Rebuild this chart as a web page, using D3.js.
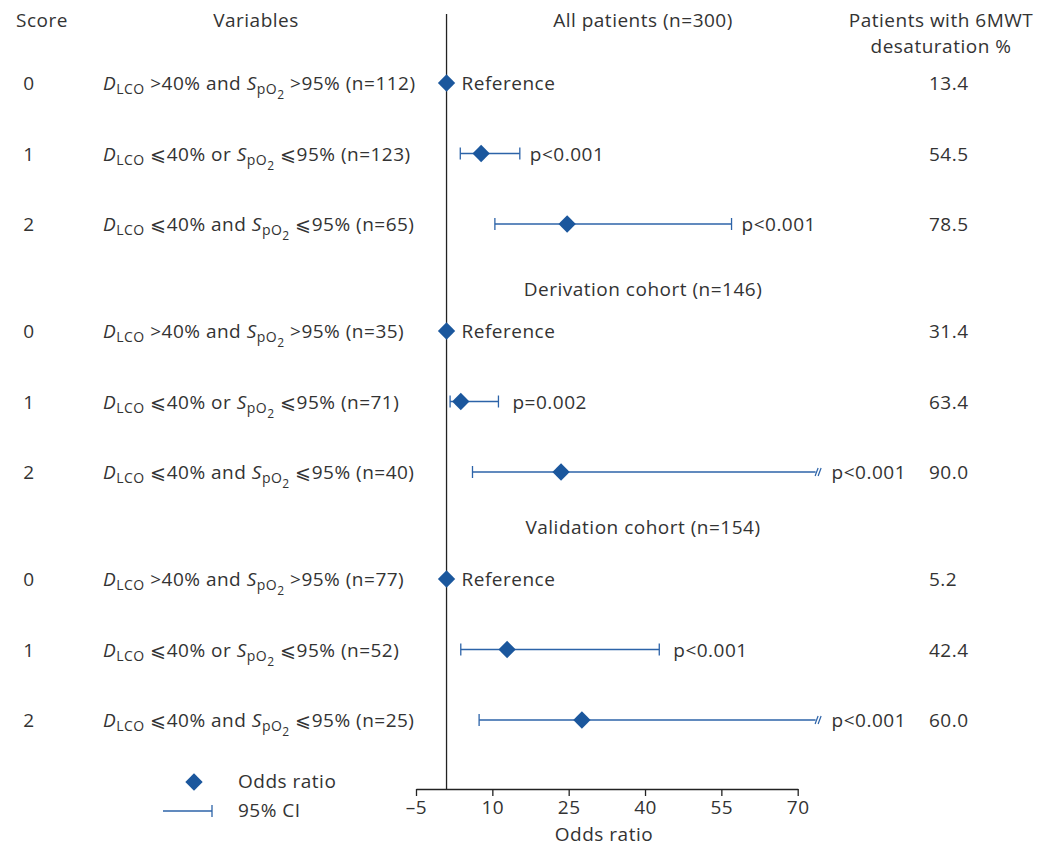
<!DOCTYPE html>
<html><head><meta charset="utf-8">
<script src="https://cdn.jsdelivr.net/npm/d3@7"></script>
<style>
html,body{margin:0;padding:0;background:#fff;}
text{font-family:"Open Sans",Roboto,sans-serif;fill:#333;letter-spacing:0.5px;}
</style></head>
<body>
<svg id="c" width="1050" height="847"></svg>
<script>
// ---- data ----
const groups = ["All patients (n=300)", "Derivation cohort (n=146)", "Validation cohort (n=154)"];
const scores = [0, 1, 2];
const connectors = ["and", "or", "and"];
const comparators = [">", "⩽", "⩽"];
const nValues = [[112, 123, 65], [35, 71, 40], [77, 52, 25]];
const orValues = [[1, 7.8, 24.7], [1, 3.8, 23.5], [1, 12.9, 27.6]];
const ciLow = [[null, 3.7, 10.5], [null, 1.7, 6.1], [null, 3.8, 7.4]];
const ciHigh = [[null, 15.4, 57.0], [null, 11.2, 74.5], [null, 42.8, 74.5]];
const ciTruncated = [[false, false, false], [false, false, true], [false, false, true]];
const pLabels = [["Reference", "p<0.001", "p<0.001"], ["Reference", "p=0.002", "p<0.001"], ["Reference", "p<0.001", "p<0.001"]];
const desat = [["13.4", "54.5", "78.5"], ["31.4", "63.4", "90.0"], ["5.2", "42.4", "60.0"]];
const xTicks = [-5, 10, 25, 40, 55, 70];
const refOR = 1;

// ---- layout ----
const svg = d3.select("#c");
const blue = "#1b579d", lineBlue = "#2c63a8";
const FS = 19;
const x = d3.scaleLinear().domain([-5, 70]).range([416, 797.7]);
const y = d3.scaleLinear().domain([0, 1]).range([83, 153.5]);
const rowIdx = (g, r) => g * (248 / 70.5) + r;
const axisY = 789;

// headers
const hdr = svg.append("g").attr("font-size", FS);
hdr.append("text").attr("x", 42).attr("y", 27).attr("text-anchor", "middle").text("Score");
hdr.append("text").attr("x", 256).attr("y", 27).attr("text-anchor", "middle").text("Variables");
hdr.append("text").attr("x", 941).attr("y", 27).attr("text-anchor", "middle").text("Patients with 6MWT");
hdr.append("text").attr("x", 941).attr("y", 53).attr("text-anchor", "middle").text("desaturation %");
const groupY = [20, 289, 527];
groups.forEach((gname, g) => {
  hdr.append("text").attr("x", 643).attr("y", groupY[g] + 7).attr("text-anchor", "middle").text(gname);
});

// reference line
svg.append("line").attr("x1", x(refOR)).attr("x2", x(refOR)).attr("y1", 14).attr("y2", axisY)
  .attr("stroke", "#222").attr("stroke-width", 1.3);

// rows
const rows = [];
groups.forEach((gname, g) => scores.forEach((s, r) => rows.push({g, r, s})));

const rowG = svg.append("g").selectAll("g").data(rows).join("g")
  .attr("transform", d => `translate(0,${y(rowIdx(d.g, d.r))})`);

rowG.append("text").attr("x", 29).attr("y", 7).attr("text-anchor", "middle").attr("font-size", FS).text(d => d.s);

// variable labels
rowG.each(function(d) {
  const t = d3.select(this).append("text").attr("x", 103).attr("y", 7).attr("font-size", FS);
  const cmp = comparators[d.r];
  t.append("tspan").attr("font-style", "italic").text("D");
  t.append("tspan").attr("font-size", 14).attr("dy", 4).text("LCO");
  t.append("tspan").attr("dy", -4).text(` ${cmp}40% ${connectors[d.r]} `);
  t.append("tspan").attr("font-style", "italic").text("S");
  t.append("tspan").attr("font-size", 14).attr("dy", 4).text("pO");
  t.append("tspan").attr("font-size", 12).attr("dy", 5).text("2");
  t.append("tspan").attr("dy", -9).text(` ${cmp}95% (n=${nValues[d.g][d.r]})`);
});

// CI lines
const ciG = rowG.filter(d => ciLow[d.g][d.r] !== null);
ciG.append("line")
  .attr("x1", d => x(ciLow[d.g][d.r])).attr("x2", d => x(ciHigh[d.g][d.r]) - (ciTruncated[d.g][d.r] ? 5 : 0))
  .attr("y1", 0).attr("y2", 0).attr("stroke", lineBlue).attr("stroke-width", 1.3);
ciG.append("line")
  .attr("x1", d => x(ciLow[d.g][d.r])).attr("x2", d => x(ciLow[d.g][d.r]))
  .attr("y1", -6).attr("y2", 6).attr("stroke", lineBlue).attr("stroke-width", 1.3);
ciG.filter(d => !ciTruncated[d.g][d.r]).append("line")
  .attr("x1", d => x(ciHigh[d.g][d.r])).attr("x2", d => x(ciHigh[d.g][d.r]))
  .attr("y1", -6).attr("y2", 6).attr("stroke", lineBlue).attr("stroke-width", 1.3);
const brk = ciG.filter(d => ciTruncated[d.g][d.r]);
[-4, -1].forEach(off => {
  brk.append("line")
    .attr("x1", d => x(ciHigh[d.g][d.r]) + off - 1.5).attr("x2", d => x(ciHigh[d.g][d.r]) + off + 1.5)
    .attr("y1", 4).attr("y2", -4).attr("stroke", lineBlue).attr("stroke-width", 1.2);
});

// diamonds
const dsym = d3.symbol().type(d3.symbolSquare).size(150);
rowG.append("path").attr("d", dsym)
  .attr("transform", d => `translate(${x(orValues[d.g][d.r])},0) rotate(45)`)
  .attr("fill", blue);

// p labels
rowG.append("text").attr("font-size", FS).attr("y", 7)
  .attr("x", d => {
    if (ciLow[d.g][d.r] === null) return x(orValues[d.g][d.r]) + 15;
    return x(ciHigh[d.g][d.r]) + (ciTruncated[d.g][d.r] ? 11 : (d.g === 0 ? 10 : 14));
  })
  .text(d => pLabels[d.g][d.r]);

// desaturation values
rowG.append("text").attr("font-size", FS).attr("x", 929).attr("y", 7).text(d => desat[d.g][d.r]);

// axis
const axis = d3.axisBottom(x).tickValues(xTicks).tickSize(7).tickSizeOuter(0)
  .tickFormat(d => d < 0 ? "\u2013" + Math.abs(d) : d);
const ax = svg.append("g").attr("transform", `translate(0,${axisY})`).call(axis);
ax.select(".domain").attr("stroke", "#222").attr("stroke-width", 1.3);
ax.selectAll(".tick line").attr("stroke", "#222").attr("stroke-width", 1.3);
ax.selectAll(".tick text").attr("font-size", FS).attr("font-family", "'Open Sans',sans-serif").attr("fill", "#333").attr("dy", "0.8em");
svg.append("text").attr("x", 604).attr("y", 841).attr("text-anchor", "middle").attr("font-size", FS).text("Odds ratio");

// legend
const lg = svg.append("g");
lg.append("path").attr("d", dsym).attr("transform", "translate(194,782) rotate(45)").attr("fill", blue);
lg.append("text").attr("x", 238).attr("y", 788).attr("font-size", FS).text("Odds ratio");
lg.append("line").attr("x1", 163).attr("x2", 212).attr("y1", 811).attr("y2", 811).attr("stroke", lineBlue).attr("stroke-width", 1.3);
lg.append("line").attr("x1", 212).attr("x2", 212).attr("y1", 805).attr("y2", 817).attr("stroke", lineBlue).attr("stroke-width", 1.3);
lg.append("text").attr("x", 238).attr("y", 817).attr("font-size", FS).text("95% CI");
</script>
</body></html>
